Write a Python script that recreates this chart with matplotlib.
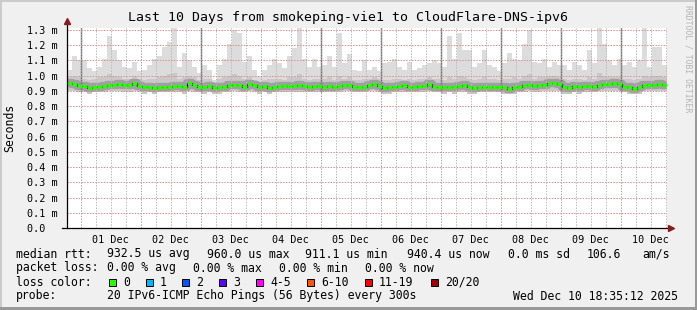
import matplotlib
matplotlib.use("Agg")
import matplotlib.pyplot as plt
import matplotlib.dates as mdates
from matplotlib.patches import Rectangle
import numpy as np
import pandas as pd

# time frame: 10 days ending Wed Dec 10 18:35:12 2025, 2 hour steps
start = pd.Timestamp("2025-11-30 18:35:12")
edges = pd.date_range(start, periods=121, freq="2h")

# median rtt (ms)
median = [
    0.954, 0.945, 0.932, 0.932, 0.917, 0.928, 0.928, 0.932, 0.941, 0.939,
    0.945, 0.937, 0.939, 0.950, 0.935, 0.924, 0.928, 0.921, 0.926, 0.924,
    0.928, 0.932, 0.932, 0.924, 0.954, 0.939, 0.928, 0.924, 0.932, 0.917,
    0.924, 0.928, 0.937, 0.939, 0.937, 0.928, 0.945, 0.937, 0.928, 0.932,
    0.917, 0.928, 0.932, 0.932, 0.932, 0.932, 0.937, 0.932, 0.928, 0.932,
    0.932, 0.928, 0.932, 0.928, 0.935, 0.939, 0.939, 0.928, 0.928, 0.928,
    0.939, 0.945, 0.932, 0.917, 0.924, 0.924, 0.932, 0.937, 0.924, 0.928,
    0.932, 0.932, 0.943, 0.928, 0.928, 0.924, 0.928, 0.924, 0.932, 0.937,
    0.924, 0.919, 0.924, 0.928, 0.928, 0.928, 0.928, 0.924, 0.915, 0.924,
    0.928, 0.937, 0.939, 0.932, 0.937, 0.939, 0.950, 0.950, 0.945, 0.924,
    0.919, 0.932, 0.924, 0.932, 0.935, 0.928, 0.939, 0.943, 0.943, 0.950,
    0.945, 0.928, 0.924, 0.915, 0.924, 0.939, 0.939, 0.941, 0.945, 0.941,
]

# smoke: slowest ping per step (ms)
smoke_max = [
    1.04, 1.13, 1.10, 1.10, 1.05, 1.03, 1.06, 1.11, 1.26, 1.17,
    1.10, 1.06, 1.05, 1.09, 1.03, 1.04, 1.07, 1.11, 1.13, 1.19,
    1.22, 1.32, 1.06, 1.15, 1.10, 1.06, 1.02, 1.07, 1.04, 0.97,
    1.07, 1.11, 1.21, 1.30, 1.28, 1.09, 1.13, 1.04, 1.00, 1.04,
    1.07, 1.11, 1.08, 1.05, 1.13, 1.18, 1.32, 1.11, 1.06, 1.11,
    1.06, 1.07, 1.13, 1.06, 1.28, 1.08, 1.14, 1.04, 1.03, 1.10,
    1.04, 1.06, 1.03, 1.08, 1.09, 1.11, 1.06, 1.04, 1.09, 1.04,
    1.05, 1.07, 1.08, 1.10, 1.08, 1.06, 1.26, 1.11, 1.28, 1.17,
    1.17, 1.06, 1.08, 1.17, 1.07, 1.06, 1.03, 1.08, 1.15, 1.11,
    1.10, 1.21, 1.30, 1.09, 1.08, 1.11, 1.06, 1.09, 1.07, 1.07,
    1.04, 1.09, 1.07, 1.04, 1.17, 1.08, 1.32, 1.21, 1.10, 1.07,
    1.11, 1.07, 1.09, 1.06, 1.10, 1.32, 1.06, 1.19, 1.19, 1.07,
]

# smoke: upper edge of the dense part (ms)
smoke_mid = [
    0.99, 1.00, 0.99, 0.98, 0.97, 0.98, 0.99, 0.99, 1.01, 1.00,
    0.99, 0.98, 0.98, 1.00, 0.98, 0.97, 0.98, 0.98, 0.99, 1.00,
    1.01, 1.02, 0.98, 0.99, 1.00, 0.99, 0.97, 0.98, 0.98, 0.96,
    0.98, 0.99, 1.00, 1.01, 1.00, 0.98, 0.99, 0.97, 0.96, 0.97,
    0.98, 0.98, 0.98, 0.97, 0.99, 0.99, 1.01, 0.98, 0.97, 0.98,
    0.98, 0.98, 0.99, 0.97, 1.00, 0.98, 0.99, 0.97, 0.97, 0.98,
    0.98, 0.99, 0.98, 0.97, 0.97, 0.98, 0.98, 0.97, 0.98, 0.97,
    0.98, 0.98, 0.99, 0.98, 0.98, 0.97, 0.99, 0.98, 1.00, 0.99,
    0.98, 0.97, 0.98, 0.99, 0.98, 0.98, 0.97, 0.98, 0.98, 0.99,
    0.98, 1.00, 1.01, 0.98, 0.99, 0.99, 1.00, 1.00, 0.99, 0.98,
    0.97, 0.98, 0.98, 0.97, 0.99, 0.98, 1.02, 1.00, 0.99, 0.99,
    0.99, 0.98, 0.98, 0.97, 0.98, 1.00, 0.99, 1.00, 1.00, 0.99,
]

# smoke: fastest ping per step (ms)
smoke_min = [
    0.90, 0.90, 0.89, 0.89, 0.88, 0.89, 0.89, 0.89, 0.90, 0.90,
    0.90, 0.89, 0.89, 0.90, 0.89, 0.88, 0.89, 0.88, 0.89, 0.89,
    0.89, 0.89, 0.89, 0.88, 0.90, 0.89, 0.89, 0.88, 0.89, 0.88,
    0.88, 0.89, 0.89, 0.90, 0.89, 0.89, 0.90, 0.89, 0.88, 0.89,
    0.88, 0.89, 0.89, 0.89, 0.89, 0.89, 0.89, 0.89, 0.89, 0.89,
    0.89, 0.89, 0.89, 0.89, 0.89, 0.90, 0.90, 0.89, 0.89, 0.89,
    0.90, 0.90, 0.89, 0.88, 0.88, 0.89, 0.89, 0.89, 0.89, 0.89,
    0.89, 0.89, 0.90, 0.89, 0.89, 0.88, 0.89, 0.88, 0.89, 0.89,
    0.88, 0.88, 0.89, 0.89, 0.89, 0.89, 0.89, 0.88, 0.88, 0.88,
    0.89, 0.89, 0.90, 0.89, 0.89, 0.90, 0.90, 0.90, 0.90, 0.88,
    0.88, 0.89, 0.88, 0.89, 0.89, 0.89, 0.90, 0.90, 0.90, 0.90,
    0.90, 0.89, 0.88, 0.88, 0.88, 0.90, 0.90, 0.90, 0.90, 0.90,
]

# days with an outlier burst around midnight
spike_days = ["2025-12-01", "2025-12-03", "2025-12-05", "2025-12-06",
              "2025-12-07", "2025-12-08", "2025-12-09", "2025-12-10"]

yticks = [0.0, 0.1, 0.2, 0.3, 0.4, 0.5, 0.6, 0.7, 0.8, 0.9, 1.0, 1.1, 1.2, 1.3]

legend_rows = [
    [("median rtt:", 16), ("932.5 us avg", 107), ("960.0 us max", 207),
     ("911.1 us min", 305), ("940.4 us now", 407), ("0.0 ms sd", 508),
     ("106.6", 587), ("am/s", 642)],
    [("packet loss:", 16), ("0.00 % avg", 107), ("0.00 % max", 193),
     ("0.00 % min", 279), ("0.00 % now", 365)],
    [("loss color:", 16)],
    [("probe:", 16), ("20 IPv6-ICMP Echo Pings (56 Bytes) every 300s", 107),
     ("Wed Dec 10 18:35:12 2025", 513)],
]
loss_labels = ["0", "1", "2", "3", "4-5", "6-10", "11-19", "20/20"]
loss_colors = ["#26ff00", "#00b8ff", "#0059ff", "#5e00ff",
               "#ff00ff", "#ff5500", "#ff0000", "#a00000"]
loss_box_x = [109, 146, 182, 219, 256, 307, 365, 431]

W, H = 697, 310
mono = "DejaVu Sans Mono"


def fx(px):
    return px / W


def fy(py):
    return 1 - py / H


fig = plt.figure(figsize=(W / 100, H / 100), dpi=100, facecolor="#f0f0f0")
ax = fig.add_axes([fx(67), fy(228), 600 / W, 200 / H])
ax.set_facecolor("white")

t = mdates.date2num(edges)
ext = lambda v: np.append(v, v[-1])

ax.fill_between(t, ext(smoke_min), ext(smoke_max), step="post",
                color="#dcdcdc", lw=0, zorder=1)
ax.fill_between(t, ext(smoke_min), ext(smoke_mid), step="post",
                color="#c8c8c8", lw=0, zorder=1.2)
ax.step(t, ext(median), where="post", color="#a0a0a0", lw=6.0, zorder=1.4)

for d in spike_days:
    x = mdates.date2num(pd.Timestamp(d))
    ax.vlines(x, 0.89, 1.4, color="#6e6e6e", lw=1.0, zorder=1.6)

# grid: dotted, red on day / 0.1 ms boundaries, grey every 6 hours
dot = (0, (1.4, 1.4))
for day in pd.date_range("2025-11-30 06:00", "2025-12-10 18:00", freq="6h"):
    x = mdates.date2num(day)
    if x < t[0] or x > t[-1]:
        continue
    if day.hour == 0:
        ax.axvline(x, color="#e08c8c", lw=0.72, ls=dot, zorder=3)
    else:
        ax.axvline(x, color="#bababa", lw=0.72, ls=dot, zorder=3)
for y in yticks[1:]:
    ax.axhline(y, color="#e08c8c", lw=0.72, ls=dot, zorder=3)

# median line
ax.step(t, ext(median), where="post", color="black", lw=0.9, zorder=4)
ax.hlines(median, t[:-1], t[1:], color="#26ff00", lw=2.1, zorder=5)

ax.set_xlim(t[0], t[-1])
ax.set_ylim(0, 1.313)
for s in ax.spines.values():
    s.set_visible(False)

noons = pd.date_range("2025-12-01 12:00", periods=10, freq="D")
ax.set_xticks(mdates.date2num(noons))
ax.set_xticklabels([d.strftime("%d %b") for d in noons], family=mono, fontsize=7.3)
ax.set_yticks(yticks)
ax.set_yticklabels([("%.1f m" % v) if v > 0 else "0.0  " for v in yticks],
                   family=mono, fontsize=7.3)
ax.tick_params(axis="x", length=0, pad=5)
ax.tick_params(axis="y", length=0, pad=7)

# axes with arrows
ax.plot([0, 0], [0, 1.03], transform=ax.transAxes, color="black", lw=0.9,
        clip_on=False, zorder=6)
ax.plot([-0.008, 1.005], [0, 0], transform=ax.transAxes, color="black", lw=0.9,
        clip_on=False, zorder=6)
ax.plot([0], [1.035], marker="^", ms=4, color="#8b1a1a", transform=ax.transAxes,
        clip_on=False, zorder=7)
ax.plot([1.007], [0], marker=">", ms=4, color="#8b1a1a", transform=ax.transAxes,
        clip_on=False, zorder=7)

fig.text(fx(348), fy(18), "Last 10 Days from smokeping-vie1 to CloudFlare-DNS-ipv6",
         family=mono, fontsize=9.55, ha="center", va="center")
fig.text(fx(10), fy(128), "Seconds", family=mono, fontsize=8.3, rotation=90,
         ha="center", va="center")
fig.text(fx(688), fy(5), "RRDTOOL / TOBI OETIKER", family=mono, fontsize=5.9,
         rotation=270, ha="center", va="top", color="#b4b4b4")

row_y = [254, 268, 282, 296]
for row, y in zip(legend_rows, row_y):
    for txt, x in row:
        fig.text(fx(x), fy(y), txt, family=mono, fontsize=8.3, ha="left", va="center")

for lab, col, x in zip(loss_labels, loss_colors, loss_box_x):
    fig.patches.append(Rectangle((fx(x), fy(285.5)), 7 / W, 7 / H, transform=fig.transFigure,
                                 facecolor=col, edgecolor="black", lw=0.7))
    fig.text(fx(x + 14), fy(282), lab, family=mono, fontsize=8.3, ha="left", va="center")

# frame shading
fig.patches.append(Rectangle((0, 0), 2 / W, 1, transform=fig.transFigure,
                             facecolor="#cbcbcb", lw=0))
fig.patches.append(Rectangle((0, fy(2)), 1, 2 / H, transform=fig.transFigure,
                             facecolor="#cbcbcb", lw=0))
fig.patches.append(Rectangle((fx(695), 0), 2 / W, 1, transform=fig.transFigure,
                             facecolor="#999999", lw=0))
fig.patches.append(Rectangle((0, 0), 1, 3 / H, transform=fig.transFigure,
                             facecolor="#999999", lw=0))

fig.savefig("out.png", dpi=100, facecolor=fig.get_facecolor())
